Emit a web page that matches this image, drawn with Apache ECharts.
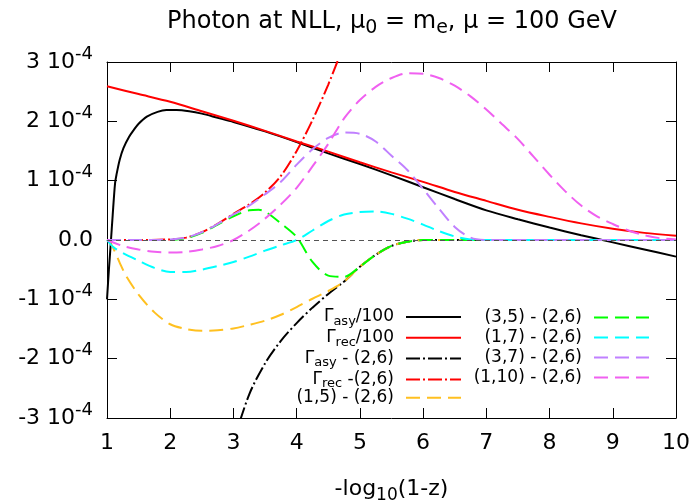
<!DOCTYPE html>
<html>
<head>
<meta charset="utf-8">
<script src="https://cdn.jsdelivr.net/npm/echarts@6/dist/echarts.min.js"></script>
<style>html,body{margin:0;padding:0;background:#fff;}#c{width:695px;height:501px;}</style>
</head>
<body>
<div id="c"></div>
<script>
// values in units of 1e-4
var yTickMant = ['-3', '-2', '-1', '0.0', '1', '2', '3'];

var asyX = [1,1.03,1.06,1.09,1.127,1.15,1.2,1.26,1.35,1.42,1.5,1.63,1.8,1.94,2.1,2.3,2.5,2.75,3,3.5,4,4.5,5,5.5,6,6.5,7,7.5,8,8.5,9,9.5,10];
var asyY = [-1.0,-0.5,-0.05,0.42,0.95,1.1,1.35,1.55,1.74,1.85,1.96,2.08,2.16,2.19,2.19,2.17,2.13,2.06,1.99,1.83,1.65,1.46,1.28,1.09,0.89,0.69,0.5,0.35,0.21,0.08,-0.04,-0.16,-0.28];

var recX = [1,1.5,2,2.5,3,3.5,4,4.5,5,5.5,6,6.5,7,7.5,8,8.5,9,9.5,10];
var recY = [2.59,2.46,2.33,2.17,2.01,1.84,1.66,1.49,1.31,1.14,0.98,0.81,0.66,0.51,0.39,0.28,0.19,0.12,0.07];

var asyDiffX = [3.0,3.25,3.5,3.75,4,4.25,4.5,4.75,5,5.25,5.5,5.75,6,6.5,7,8,9,10];
var asyDiffY = [-3.4,-2.6,-2.08,-1.7,-1.4,-1.14,-0.91,-0.7,-0.45,-0.25,-0.1,-0.03,0,0,0,0,0,0];

var recDiffX = [1,1.5,2,2.25,2.5,2.75,3,3.25,3.5,3.75,4,4.25,4.5,4.75];
var recDiffY = [0,0,0.01,0.04,0.13,0.27,0.44,0.6,0.8,1.08,1.5,2.02,2.62,3.3];

var s15X = [1,1.05,1.1,1.2,1.3,1.5,1.75,2,2.25,2.5,2.75,3,3.25,3.5,3.75,4,4.25,4.5,4.75,5,5.25,5.5,5.75,6,7,8,9,10];
var s15Y = [0,-0.05,-0.14,-0.38,-0.6,-0.92,-1.22,-1.42,-1.5,-1.53,-1.52,-1.49,-1.43,-1.36,-1.26,-1.13,-0.99,-0.86,-0.7,-0.45,-0.25,-0.1,-0.03,0,0,0,0,0];

var s35X = [1,1.5,2,2.25,2.5,2.75,3,3.25,3.4,3.5,3.75,4,4.25,4.5,4.75,5,5.25,5.5,5.75,6,7,8,9,10];
var s35Y = [0,0,0,0.03,0.12,0.26,0.4,0.5,0.51,0.48,0.28,0.05,-0.37,-0.6,-0.62,-0.45,-0.25,-0.1,-0.03,0,0,0,0,0];

var s17X = [1,1.1,1.25,1.5,1.75,2,2.25,2.5,2.75,3,3.25,3.5,3.75,4,4.25,4.5,4.75,5,5.25,5.5,5.75,6,6.25,6.5,6.75,7,8,9,10];
var s17Y = [0,-0.12,-0.22,-0.35,-0.47,-0.54,-0.54,-0.5,-0.44,-0.37,-0.28,-0.18,-0.09,0,0.16,0.32,0.43,0.47,0.48,0.44,0.36,0.26,0.15,0.06,0.01,0,0,0,0];

var s37X = [1,1.5,2,2.25,2.5,2.75,3,3.25,3.5,3.75,4,4.25,4.5,4.75,5,5.25,5.5,5.75,6,6.25,6.5,6.75,7,8,9,10];
var s37Y = [0,0,0.01,0.04,0.13,0.27,0.43,0.58,0.77,0.98,1.27,1.53,1.72,1.81,1.79,1.66,1.42,1.18,0.86,0.53,0.22,0.04,0,0,0,0];

var s110X = [1,1.25,1.5,1.75,2,2.25,2.5,2.75,3,3.25,3.5,3.75,4,4.25,4.5,4.75,5,5.25,5.5,5.75,6,6.25,6.5,6.75,7,7.25,7.5,7.75,8,8.25,8.5,8.75,9,9.25,9.5,9.75,10];
var s110Y = [0,-0.1,-0.16,-0.2,-0.21,-0.2,-0.16,-0.1,0,0.16,0.36,0.6,0.88,1.24,1.62,2.05,2.36,2.58,2.73,2.81,2.8,2.73,2.6,2.42,2.2,1.95,1.7,1.4,1.1,0.82,0.58,0.4,0.27,0.16,0.08,0.03,0.01];

var FONT = 'DejaVu Sans';
function pairs(xs, ys) { return xs.map(function (x, i) { return [x, ys[i]]; }); }

var seriesDefs = [
  {name: 'asy100', x: asyX, y: asyY, color: '#000000', type: 'solid'},
  {name: 'rec100', x: recX, y: recY, color: '#ff0000', type: 'solid'},
  {name: 'asyDiff', x: asyDiffX, y: asyDiffY, color: '#000000', type: [14,3,2,3]},
  {name: 'recDiff', x: recDiffX, y: recDiffY, color: '#ff0000', type: [14,3,2,3]},
  {name: 's15', x: s15X, y: s15Y, color: '#ffc020', type: [14,7]},
  {name: 's35', x: s35X, y: s35Y, color: '#00ff00', type: [14,7]},
  {name: 's17', x: s17X, y: s17Y, color: '#00ffff', type: [14,7]},
  {name: 's37', x: s37X, y: s37Y, color: '#c080ff', type: [14,7]},
  {name: 's110', x: s110X, y: s110Y, color: '#f060f0', type: [14,7]}
];

var legendLabels = {
  asy100: '{t|Γ}{s|asy}{t|/100}{g|}',
  rec100: '{t|Γ}{s|rec}{t|/100}{g|}',
  asyDiff: '{t|Γ}{s|asy}{t| - (2,6)}{g|}',
  recDiff: '{t|Γ}{s|rec}{t| -(2,6)}{g|}',
  s15: '{t|(1,5) - (2,6)}{g|}',
  s35: '{t|(3,5) - (2,6)}{g|}',
  s17: '{t|(1,7) - (2,6)}{g|}',
  s37: '{t|(3,7) - (2,6)}{g|}',
  s110: '{t|(1,10) - (2,6)}{g|}'
};

var series = seriesDefs.map(function (d, i) {
  var s = {
    name: d.name, type: 'line', data: pairs(d.x, d.y), symbol: 'none', smooth: 0.3,
    clip: true, color: d.color,
    lineStyle: {color: d.color, width: 2, type: d.type},
    emphasis: {disabled: true}, silent: true, z: 3 + i * 0.01
  };
  if (i === 0) {
    s.markLine = {
      silent: true, symbol: 'none', label: {show: false},
      lineStyle: {color: '#555', width: 1, type: [5, 4]},
      data: [{yAxis: 0}]
    };
  }
  return s;
});

var legendRich = {
  t: {fontSize: 17, fontFamily: FONT, color: '#000', lineHeight: 20},
  s: {fontSize: 13, fontFamily: FONT, color: '#000', lineHeight: 20, padding: [9, 0, 0, 0]},
  g: {width: 7, lineHeight: 20}
};

function legendCfg(names, right, top, gap) {
  return {
    data: names, orient: 'vertical', align: 'right', right: right, top: top,
    padding: 0, itemGap: gap, itemWidth: 55, itemHeight: 14,
    itemStyle: {opacity: 0}, selectedMode: false,
    formatter: function (n) { return legendLabels[n]; },
    textStyle: {fontFamily: FONT, fontSize: 17, color: '#000', rich: legendRich}
  };
}

var axisLineStyle = {color: '#000', width: 1};
var option = {
  animation: false,
  backgroundColor: '#fff',
  grid: {left: 107, right: 19, top: 62, bottom: 83, containLabel: false, outerBoundsMode: 'none'},
  xAxis: [{
    type: 'value', min: 1, max: 10, interval: 1, position: 'bottom',
    axisLine: {show: true, onZero: false, lineStyle: axisLineStyle},
    axisTick: {show: true, inside: true, length: 10, lineStyle: axisLineStyle},
    splitLine: {show: false},
    axisLabel: {fontFamily: FONT, fontSize: 22, color: '#000', margin: 14},
    name: '-log{s|10}(1-z)', nameLocation: 'middle', nameGap: 57,
    nameTextStyle: {fontFamily: FONT, fontSize: 22, color: '#000',
      rich: {s: {fontSize: 17, fontFamily: FONT, color: '#000', padding: [12, 0, 0, 0]}}}
  }, {
    type: 'value', min: 1, max: 10, interval: 1, position: 'top',
    axisLine: {show: true, onZero: false, lineStyle: axisLineStyle},
    axisTick: {show: true, inside: true, length: 10, lineStyle: axisLineStyle},
    splitLine: {show: false}, axisLabel: {show: false}
  }],
  yAxis: [{
    type: 'value', min: -3, max: 3, interval: 1, position: 'left',
    axisLine: {show: true, onZero: false, lineStyle: axisLineStyle},
    axisTick: {show: true, inside: true, length: 10, lineStyle: axisLineStyle},
    splitLine: {show: false},
    axisLabel: {
      margin: 14, color: '#000', fontFamily: FONT, fontSize: 22,
      formatter: function (v) {
        var m = yTickMant[Math.round(v) + 3];
        if (Math.round(v) === 0) return '{m|' + m + '}';
        return '{m|' + m + ' 10}{e|-4}';
      },
      rich: {
        m: {fontFamily: FONT, fontSize: 22, color: '#000'},
        e: {fontFamily: FONT, fontSize: 18, color: '#000', padding: [0, 0, 16, 0]}
      }
    }
  }, {
    type: 'value', min: -3, max: 3, interval: 1, position: 'right',
    axisLine: {show: true, onZero: false, lineStyle: axisLineStyle},
    axisTick: {show: true, inside: true, length: 10, lineStyle: axisLineStyle},
    splitLine: {show: false}, axisLabel: {show: false}
  }],
  legend: [
    legendCfg(['asy100', 'rec100', 'asyDiff', 'recDiff', 's15'], 233, 306, -1.2),
    legendCfg(['s35', 's17', 's37', 's110'], 45, 309, 3.0)
  ],
  graphic: [{
    type: 'text', x: 392, y: 6,
    style: {
      text: 'Photon at NLL, μ{s|0} = m{s|e}, μ = 100 GeV',
      fontFamily: FONT, fontSize: 24, fill: '#000', align: 'center',
      rich: {s: {fontFamily: FONT, fontSize: 19, fill: '#000', padding: [13, 0, 0, 0]}}
    }
  }],
  series: series
};

var chart = echarts.init(document.getElementById('c'), null, {renderer: 'canvas'});
chart.setOption(option);
</script>
</body>
</html>
